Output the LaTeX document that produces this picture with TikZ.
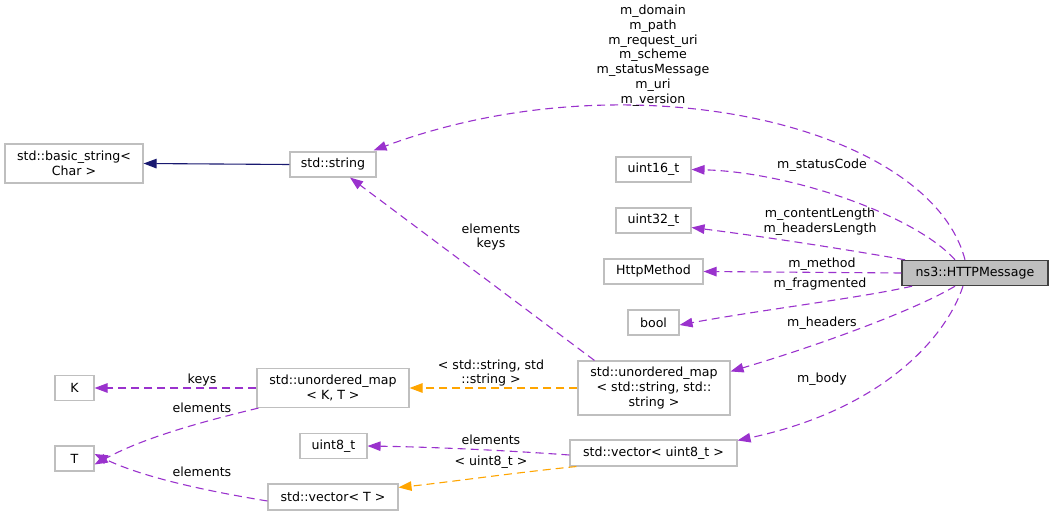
\documentclass[tikz,border=0pt]{standalone}
\usepackage{fontspec}
\setmainfont{DejaVu Sans}
\usetikzlibrary{arrows.meta}
\definecolor{edgep}{HTML}{9A32CD}
\definecolor{edgeo}{HTML}{FFA500}
\definecolor{edgen}{HTML}{191970}
\definecolor{boxb}{HTML}{BFBFBF}
\begin{document}
\begin{tikzpicture}[x=1pt,y=-1pt,
  font=\fontsize{12.6}{14.8}\selectfont,
  cls/.style={draw=boxb,line width=1.1pt,fill=white,inner sep=0pt,align=center,text=black},
  main/.style={draw=black!75,line width=1.4pt,fill=boxb,inner sep=0pt,align=center},
  lbl/.style={inner sep=0pt,align=center,text=black},
  tip/.style={-{Triangle[length=13pt,width=9.5pt]}},
  usep/.style={tip,draw=edgep,line width=1.1pt,dash pattern=on 8pt off 5pt},
  useo/.style={tip,draw=edgeo,line width=1.1pt,dash pattern=on 8pt off 5pt},
  inh/.style={tip,draw=edgen,line width=1.1pt}]
\useasboundingbox (0,0) rectangle (1053,516);
% nodes
\node[cls,minimum width=138pt,minimum height=39pt] (bs) at (74,163.5) {std::basic\_string<\\Char >};
\node[cls,minimum width=86pt,minimum height=25pt] (str) at (333,164.5) {std::string};
\node[cls,minimum width=75pt,minimum height=25pt] (u16) at (653.5,169.5) {uint16\_t};
\node[cls,minimum width=75pt,minimum height=25pt] (u32) at (653.5,220.5) {uint32\_t};
\node[cls,minimum width=99pt,minimum height=25pt] (hm) at (653.5,271.5) {HttpMethod};
\node[cls,minimum width=51pt,minimum height=25pt] (bool) at (653.5,322.5) {bool};
\node[main,minimum width=146pt,minimum height=25pt] (msg) at (975,273) {ns3::HTTPMessage};
\node[cls,minimum width=39pt,minimum height=25pt] (K) at (74.5,388) {K};
\node[cls,minimum width=39pt,minimum height=25pt] (T) at (74.5,458.5) {T};
\node[cls,minimum width=152pt,minimum height=39pt] (umKT) at (333,388) {std::unordered\_map\\< K, T >};
\node[cls,minimum width=67pt,minimum height=25pt] (u8) at (333.5,446) {uint8\_t};
\node[cls,minimum width=130pt,minimum height=26pt] (vT) at (333,497) {std::vector< T >};
\node[cls,minimum width=152pt,minimum height=54pt] (umss) at (654,388) {std::unordered\_map\\< std::string, std::\\string >};
\node[cls,minimum width=167pt,minimum height=26pt] (vu8) at (653.5,453) {std::vector< uint8\_t >};
% edges
\draw[inh] (str.west) -- (bs.east);
\draw[usep] ([xshift=-10pt]msg.north) .. controls (930,125) and (630,55) .. ([xshift=-3pt,yshift=1pt]str.north east);
\draw[usep] ([xshift=-20pt]msg.north) .. controls (915,215) and (790,172) .. (u16.east);
\draw[usep] ([xshift=-70pt]msg.north) .. controls (850,250) and (760,236) .. ([yshift=-7pt]u32.east);
\draw[usep] (msg.west) -- (hm.east);
\draw[usep] ([xshift=-63pt]msg.south) .. controls (860,298) and (760,310) .. ([yshift=-2.5pt]bool.east);
\draw[usep] ([xshift=-20pt]msg.south) .. controls (915,310) and (820,345) .. ([yshift=-11pt]umss.north east);
\draw[usep] ([xshift=-12pt]msg.south) .. controls (945,340) and (880,410) .. ([yshift=-1pt]vu8.north east);
\draw[usep] ([xshift=17pt]umss.north west) -- ([xshift=17pt]str.south);
\draw[useo] (umss.west) -- (umKT.east);
\draw[usep] (umKT.west) -- (K.east);
\draw[usep] ([xshift=2pt]umKT.south west) .. controls (205,421) and (145,437) .. ([yshift=-6pt]T.east);
\draw[usep] ([yshift=-4pt]vT.west) .. controls (200,490) and (140,476) .. ([yshift=4.5pt]T.east);
\draw[usep] ([yshift=-2pt]vu8.west) .. controls (500,450) and (430,447) .. (u8.east);
\draw[useo] ([xshift=7pt]vu8.south west) .. controls (520,472) and (450,482) .. ([yshift=-4pt]vT.north east);
% labels
\node[lbl] (l1) at (653,55.5) {m\_domain\\m\_path\\m\_request\_uri\\m\_scheme\\m\_statusMessage\\m\_uri\\m\_version};
\node[lbl] (l2) at (822,165) {m\_statusCode};
\node[lbl] (l3) at (820,222) {m\_contentLength\\m\_headersLength};
\node[lbl] (l4) at (822,264) {m\_method};
\node[lbl] (l5) at (820,284) {m\_fragmented};
\node[lbl] (l6) at (822,323) {m\_headers};
\node[lbl] (l7) at (822,379) {m\_body};
\node[lbl] (l8) at (491,237) {elements\\keys};
\node[lbl] (l9) at (491,373) {< std::string, std\\::string >};
\node[lbl] (l10) at (202,380) {keys};
\node[lbl] (l11) at (202,408) {elements};
\node[lbl] (l12) at (202,472) {elements};
\node[lbl] (l13) at (491,440) {elements};
\node[lbl] (l14) at (491,462) {< uint8\_t >};
\end{tikzpicture}
\end{document}
